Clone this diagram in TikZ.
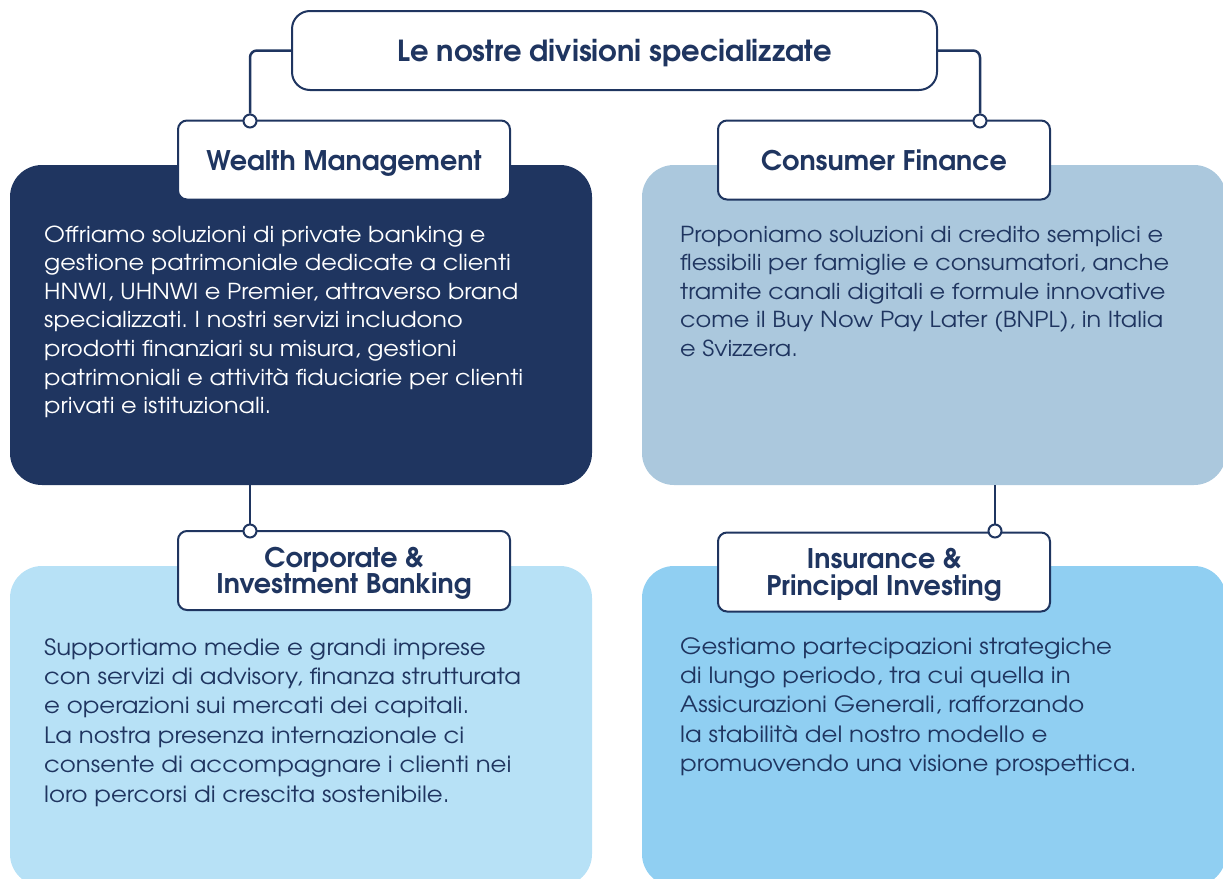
\documentclass[tikz,border=0pt]{standalone}
\usepackage{fontspec}
\setmainfont{TeX Gyre Adventor}
\newfontfamily\bodyfont[FakeStretch=1.09]{TeX Gyre Adventor}
\usetikzlibrary{calc}
\frenchspacing
\definecolor{navy}{HTML}{1F3560}
\definecolor{cfbox}{HTML}{ABC8DD}
\definecolor{cibbox}{HTML}{B7E1F6}
\definecolor{ipbox}{HTML}{90CFF2}
\tikzset{
  panel/.style={rectangle, rounded corners=32pt, inner sep=0pt, draw=none, minimum width=582pt, minimum height=320pt},
  headbox/.style={rectangle, rounded corners=9pt, draw=navy, line width=2pt, fill=white, text=navy,
    font=\bfseries\fontsize{27}{26.5}\selectfont, align=center, minimum width=332pt, minimum height=79pt, inner sep=0pt},
  onehead/.style={headbox, text height=20pt, text depth=0pt},
  twohead/.style={headbox, text depth=0pt},
  titlebox/.style={headbox, font=\bfseries\fontsize{29}{30}\selectfont, text height=21.5pt, text depth=0pt,
    rounded corners=18pt, minimum width=645pt, minimum height=79pt},
  conn/.style={draw=navy, line width=2.5pt, rounded corners=7pt},
  dot/.style={circle, draw=navy, line width=2pt, fill=white, minimum size=13pt, inner sep=0pt},
  body/.style={inner sep=0pt, anchor=base west, font=\bodyfont\fontsize{22}{28.6}\selectfont},
  bodylow/.style={body, font=\bodyfont\fontsize{22.4}{29.4}\selectfont},
}
\begin{document}
\begin{tikzpicture}[x=1pt, y=-1pt]
  \useasboundingbox (0,0) rectangle (1223,878);
  \clip (0,0) rectangle (1223,878);
  % panels
  \node[panel, fill=navy] (wmp) at (301,325) {};
  \node[panel, fill=cfbox, minimum width=584pt] (cfp) at (934,325) {};
  \node[panel, fill=cibbox] (cibp) at (301,726) {};
  \node[panel, fill=ipbox, minimum width=584pt] (ipp) at (934,726) {};
  % body texts
  \node[body, text=white] (wmt) at (44,242) {\parbox[t]{560pt}{\raggedright
    Offriamo soluzioni di private banking e\\
    gestione patrimoniale dedicate a clienti\\
    HNWI, UHNWI e Premier, attraverso brand\\
    specializzati. I nostri servizi includono\\
    prodotti finanziari su misura, gestioni\\
    patrimoniali e attività fiduciarie per clienti\\
    privati e istituzionali.}};
  \node[body, text=navy] (cft) at (680,242) {\parbox[t]{560pt}{\raggedright
    Proponiamo soluzioni di credito semplici e\\
    flessibili per famiglie e consumatori, anche\\
    tramite canali digitali e formule innovative\\
    come il Buy Now Pay Later (BNPL), in Italia\\
    e Svizzera.}};
  \node[bodylow, text=navy] (cibt) at (44,655) {\parbox[t]{560pt}{\raggedright
    Supportiamo medie e grandi imprese\\
    con servizi di advisory, finanza strutturata\\
    e operazioni sui mercati dei capitali.\\
    La nostra presenza internazionale ci\\
    consente di accompagnare i clienti nei\\
    loro percorsi di crescita sostenibile.}};
  \node[bodylow, text=navy] (ipt) at (680,654) {\parbox[t]{560pt}{\raggedright
    Gestiamo partecipazioni strategiche\\
    di lungo periodo, tra cui quella in\\
    Assicurazioni Generali, rafforzando\\
    la stabilità del nostro modello e\\
    promuovendo una visione prospettica.}};
  % heading boxes
  \node[titlebox] (title) at (614.5,50.5) {Le nostre divisioni specializzate};
  \node[onehead] (wm) at (344,160) {Wealth Management};
  \node[onehead] (cf) at (884,160) {Consumer Finance};
  \node[twohead] (cib) at (344,570.5) {Corporate \&\\Investment Banking};
  \node[twohead] (ip) at (884,572) {Insurance \&\\Principal Investing};
  % dots
  \node[dot] (d1) at (250,121) {};
  \node[dot] (d2) at (980,121) {};
  \node[dot] (d3) at (250,531) {};
  \node[dot] (d4) at (995,531) {};
  % connectors
  \draw[conn] (title.west) -| (d1);
  \draw[conn] (title.east) -| (d2);
  \draw[conn] (wmp.south -| d3) -- (d3);
  \draw[conn] (cfp.south -| d4) -- (d4);
\end{tikzpicture}
\end{document}
